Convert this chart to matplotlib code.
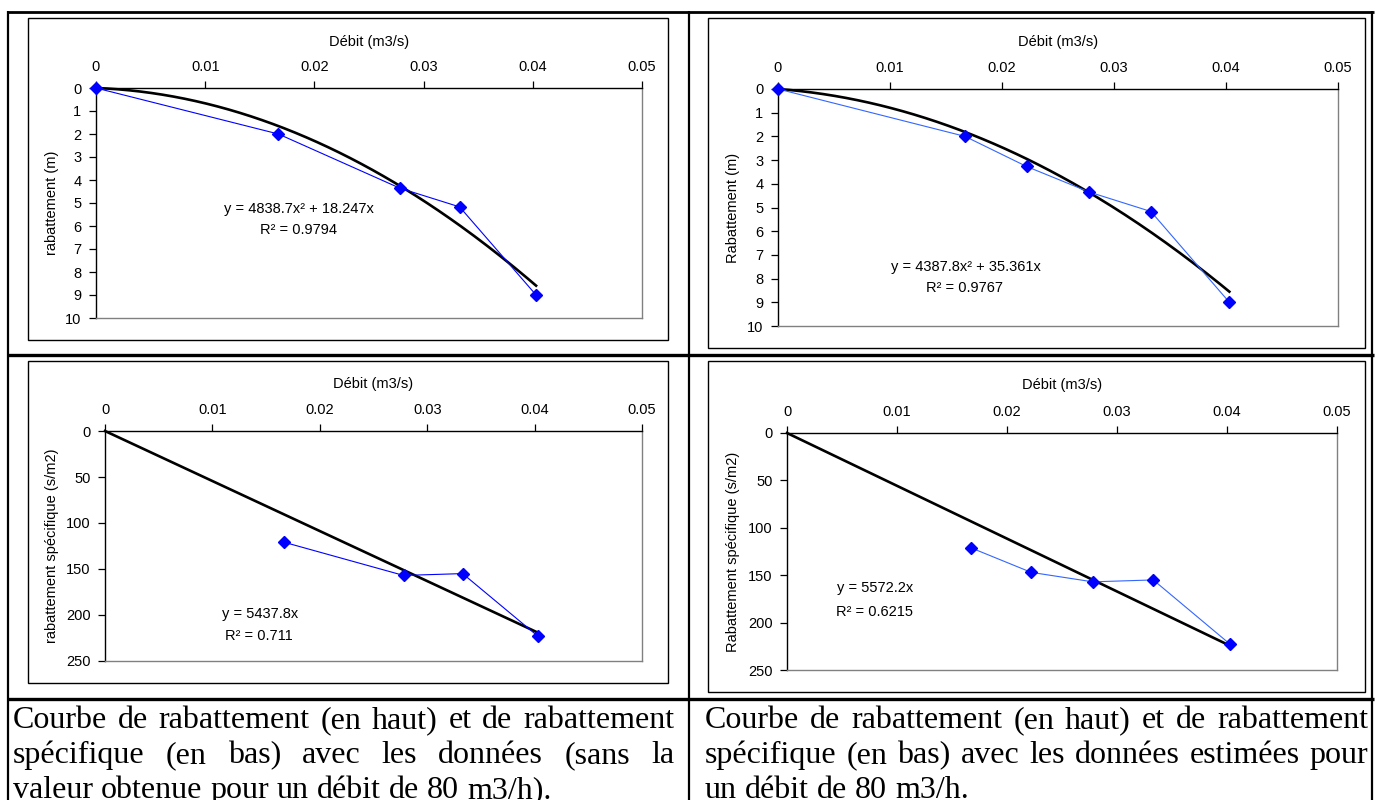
import matplotlib
matplotlib.use('Agg')
import matplotlib.pyplot as plt
from matplotlib.lines import Line2D
from matplotlib.patches import Rectangle
import numpy as np

# ---------------- data ----------------
Q_sans = [0.0, 0.0167, 0.0278, 0.0333, 0.0403]           # m3/s
s_sans = [0.0, 2.0, 4.35, 5.17, 9.0]                      # m
Q_avec = [0.0, 0.0167, 0.0222, 0.0278, 0.0333, 0.0403]
s_avec = [0.0, 2.0, 3.27, 4.35, 5.17, 9.0]

Qsp_sans = [0.0167, 0.0278, 0.0333, 0.0403]
sp_sans = [121, 157, 155, 223]                            # s/m2
Qsp_avec = [0.0167, 0.0222, 0.0278, 0.0333, 0.0403]
sp_avec = [121, 147, 157, 155, 223]

# trend line coefficients as displayed (a*x^2 + b*x)
poly_sans = [4838.7, 18.247, 0.0]
poly_avec = [4387.8, 35.361, 0.0]
lin_sans = [5437.8, 0.0]
lin_avec = [5572.2, 0.0]

eq_texts = ["y = 4838.7x\u00b2 + 18.247x", "y = 4387.8x\u00b2 + 35.361x",
            "y = 5437.8x", "y = 5572.2x"]
r2_texts = ["R\u00b2 = 0.9794", "R\u00b2 = 0.9767", "R\u00b2 = 0.711", "R\u00b2 = 0.6215"]
ylabels = ["rabattement (m)", "Rabattement (m)",
           "rabattement sp\u00e9cifique (s/m2)", "Rabattement sp\u00e9cifique (s/m2)"]
xlabel = "D\u00e9bit (m3/s)"
xticks = [0, 0.01, 0.02, 0.03, 0.04, 0.05]
xticklabels = ["0", "0.01", "0.02", "0.03", "0.04", "0.05"]
yticks_s = list(range(0, 11))
yticks_sp = [0, 50, 100, 150, 200, 250]

caption_left = ["Courbe de rabattement (en haut) et de rabattement",
                "sp\u00e9cifique (en bas) avec les donn\u00e9es (sans la",
                "valeur obtenue pour un d\u00e9bit de 80 m3/h)."]
caption_right = ["Courbe de rabattement (en haut) et de rabattement",
                 "sp\u00e9cifique (en bas) avec les donn\u00e9es estim\u00e9es pour",
                 "un d\u00e9bit de 80 m3/h."]

# ---------------- figure ----------------
W, H = 1375, 800
fig = plt.figure(figsize=(W / 100, H / 100), dpi=100)
fig.patch.set_facecolor('white')
SANS = 'Liberation Sans'
SERIF = 'Liberation Serif'
FS = 10.5


def fx(x):
    return x / W


def fy(y):
    return 1 - y / H


def hline(y, x0, x1, lw, color='black'):
    fig.add_artist(Line2D([fx(x0), fx(x1)], [fy(y), fy(y)], lw=lw, color=color,
                          transform=fig.transFigure, solid_capstyle='butt'))


def vline(x, y0, y1, lw, color='black'):
    fig.add_artist(Line2D([fx(x), fx(x)], [fy(y0), fy(y1)], lw=lw, color=color,
                          transform=fig.transFigure, solid_capstyle='butt'))


# table grid
hline(12, 7, 1374, 2.0)
hline(355, 7, 1374, 2.4)
hline(699, 7, 1374, 2.4)
vline(8, 11, 800, 1.6)
vline(689, 11, 800, 1.6)
vline(1372, 11, 800, 1.6)

charts = [
    # box (x0,y0,x1,y1), plot (x0,y0,x1,y1), title y, ylabel x, eq pos, r2 pos
    dict(box=(28, 18, 668, 340), plot=(96, 88, 642, 318), ty=42, lx=52,
         eq=(299, 209), r2=(299, 230)),
    dict(box=(708, 18, 1365, 348), plot=(778, 89, 1338, 326), ty=42, lx=733,
         eq=(966, 267), r2=(964, 288)),
    dict(box=(28, 361, 668, 683), plot=(105, 431, 642, 661), ty=384, lx=52,
         eq=(260, 614), r2=(259, 636)),
    dict(box=(708, 361, 1365, 692), plot=(787, 433, 1337, 670), ty=385, lx=733,
         eq=(875, 588), r2=(875, 612)),
]

series = [
    (Q_sans, s_sans, 'poly', poly_sans, yticks_s, '#0000ff'),
    (Q_avec, s_avec, 'poly', poly_avec, yticks_s, '#3366ff'),
    (Qsp_sans, sp_sans, 'lin', lin_sans, yticks_sp, '#0000ff'),
    (Qsp_avec, sp_avec, 'lin', lin_avec, yticks_sp, '#3366ff'),
]

for i, (c, (qx, sy, kind, coef, yt, lcol)) in enumerate(zip(charts, series)):
    bx0, by0, bx1, by1 = c['box']
    fig.add_artist(Rectangle((fx(bx0), fy(by1)), (bx1 - bx0) / W, (by1 - by0) / H,
                             transform=fig.transFigure, fill=False,
                             edgecolor='black', lw=1.0))
    px0, py0, px1, py1 = c['plot']
    ax = fig.add_axes([fx(px0), fy(py1), (px1 - px0) / W, (py1 - py0) / H])
    ax.set_facecolor('white')
    ax.set_xlim(0, 0.05)
    ax.set_ylim(yt[-1], 0)
    ax.xaxis.tick_top()
    ax.set_xticks(xticks)
    ax.set_xticklabels(xticklabels, fontfamily=SANS, fontsize=FS)
    ax.set_yticks(yt)
    ax.set_yticklabels([str(v) for v in yt], fontfamily=SANS, fontsize=FS)
    ax.tick_params(axis='x', top=True, bottom=False, labeltop=True, labelbottom=False,
                   direction='out', length=5, width=0.9, pad=5, colors='black')
    ax.tick_params(axis='y', left=True, right=False, direction='out', length=5,
                   width=0.9, pad=5.5, colors='black')
    for sp in ('top', 'left'):
        ax.spines[sp].set_color('black')
        ax.spines[sp].set_linewidth(1.0)
    for sp in ('right', 'bottom'):
        ax.spines[sp].set_color('#808080')
        ax.spines[sp].set_linewidth(1.0)

    # trend line from 0 to last data point
    xt = np.linspace(0, max(qx), 200)
    yfit = np.polyval(coef, xt)
    ax.plot(xt, yfit, color='black', lw=1.9, zorder=2, clip_on=False)
    ax.plot(qx, sy, color=lcol, lw=0.8, marker='D', markersize=6.5,
            markerfacecolor='#0000ff', markeredgecolor='#0000ff', zorder=3,
            clip_on=False)

    fig.text(fx((px0 + px1) / 2), fy(c['ty']), xlabel, ha='center', va='center',
             fontfamily=SANS, fontsize=FS)
    fig.text(fx(c['lx']), fy((py0 + py1) / 2), ylabels[i], ha='center', va='center',
             rotation=90, fontfamily=SANS, fontsize=FS)
    fig.text(fx(c['eq'][0]), fy(c['eq'][1]), eq_texts[i], ha='center', va='center',
             fontfamily=SANS, fontsize=FS)
    fig.text(fx(c['r2'][0]), fy(c['r2'][1]), r2_texts[i], ha='center', va='center',
             fontfamily=SANS, fontsize=FS)

# ---------------- justified captions ----------------
CAP_FS = 23
renderer = fig.canvas.get_renderer()


def draw_line(text, x0, x1, ybase, justify):
    words = text.split(' ')
    arts = []
    widths = []
    for w in words:
        t = fig.text(0, 0, w, fontfamily=SERIF, fontsize=CAP_FS, ha='left',
                     va='baseline')
        bb = t.get_window_extent(renderer)
        arts.append(t)
        widths.append(bb.width)
    space = 0.25 * CAP_FS * 100 / 72
    if justify and len(words) > 1:
        gap = (x1 - x0 - sum(widths)) / (len(words) - 1)
    else:
        gap = space
    x = x0
    for t, wd in zip(arts, widths):
        t.set_position((fx(x), fy(ybase)))
        x += wd + gap


baselines = [728, 763, 798]
for k, (l, r) in enumerate(zip(caption_left, caption_right)):
    draw_line(l, 13, 674, baselines[k], k < 2)
    draw_line(r, 705, 1368, baselines[k], k < 2)

fig.savefig('out.png', dpi=100)
